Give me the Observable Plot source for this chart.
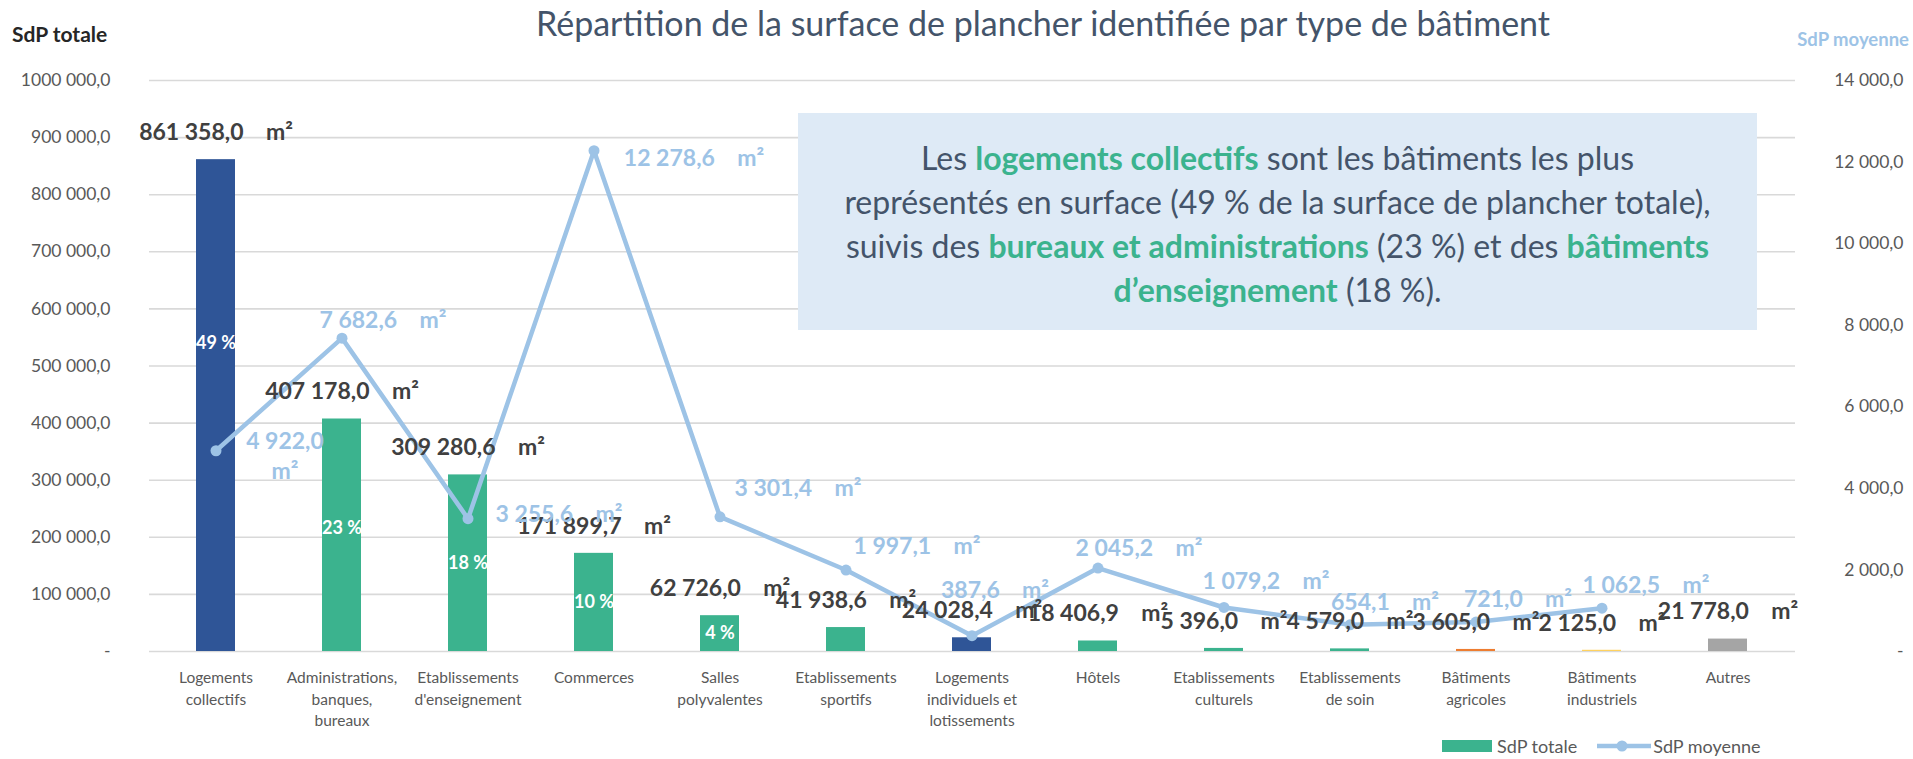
<!DOCTYPE html>
<html>
<head>
<meta charset="utf-8">
<script src="https://cdn.jsdelivr.net/npm/d3@7"></script>
<script src="https://cdn.jsdelivr.net/npm/@observablehq/plot@0.6"></script>
<style>
  html, body { margin: 0; padding: 0; background: #ffffff; }
  body { font-family: Lato, "Open Sans", "Liberation Sans", sans-serif; }
  #wrap { position: relative; width: 1913px; height: 759px; overflow: hidden; }
  #chart { position: absolute; left: 0; top: 0; }
  #title { position: absolute; left: 1043px; top: 3px; transform: translateX(-50%);
           font-size: 34px; line-height: 40px; color: #44546A; white-space: nowrap; }
  #ytitleL { position: absolute; left: 12px; top: 21px; font-size: 21px; font-weight: bold; color: #262626; line-height: 26px; white-space: nowrap; }
  #ytitleR { position: absolute; right: 4px; top: 27px; font-size: 18.5px; font-weight: bold; color: #9DC3E6; line-height: 24px; white-space: nowrap; }
  #note { position: absolute; left: 798px; top: 113px; width: 959px; height: 217px; background: #DEEAF6;
          box-sizing: border-box; padding-top: 23px; text-align: center; font-size: 32px; line-height: 44px;
          color: #44546A; white-space: nowrap; }
  #note b { color: #3BB38E; }
  #legend { position: absolute; left: 1442px; top: 735px; height: 22px; display: flex; align-items: center;
            font-size: 18px; line-height: 22px; color: #595959; white-space: nowrap; }
  #legend svg { display: block; }
</style>
</head>
<body>
<div id="wrap">
  <div id="chart"></div>
  <div id="title">Répartition de la surface de plancher identifiée par type de bâtiment</div>
  <div id="ytitleL">SdP totale</div>
  <div id="ytitleR">SdP moyenne</div>
  <div id="note">Les <b>logements collectifs</b> sont les bâtiments les plus<br>représentés en surface (49 % de la surface de plancher totale),<br>suivis des <b>bureaux et administrations</b> (23 %) et des <b>bâtiments</b><br><b>d’enseignement</b> (18 %).</div>
  <div id="legend">
    <svg width="50" height="12"><rect x="0" y="0" width="50" height="12" fill="#3BB38E"></rect></svg>
    <span style="margin-left:5px">SdP totale</span>
    <svg width="54" height="14" style="margin-left:20px"><line x1="0" y1="7" x2="54" y2="7" stroke="#9DC3E6" stroke-width="4.5"></line><circle cx="25" cy="7" r="5.5" fill="#9DC3E6"></circle></svg>
    <span style="margin-left:2px">SdP moyenne</span>
  </div>
</div>
<script>
// ---------- data ----------
const categories = [
  "Logements collectifs", "Administrations, banques, bureaux", "Etablissements d'enseignement",
  "Commerces", "Salles polyvalentes", "Etablissements sportifs",
  "Logements individuels et lotissements", "Hôtels", "Etablissements culturels",
  "Etablissements de soin", "Bâtiments agricoles", "Bâtiments industriels", "Autres"
];
const categoryLabels = [
  "Logements\ncollectifs", "Administrations,\nbanques,\nbureaux", "Etablissements\nd'enseignement",
  "Commerces", "Salles\npolyvalentes", "Etablissements\nsportifs",
  "Logements\nindividuels et\nlotissements", "Hôtels", "Etablissements\nculturels",
  "Etablissements\nde soin", "Bâtiments\nagricoles", "Bâtiments\nindustriels", "Autres"
];
const sdpTotale = [861358.0, 407178.0, 309280.6, 171899.7, 62726.0, 41938.6, 24028.4, 18406.9, 5396.0, 4579.0, 3605.0, 2125.0, 21778.0];
const sdpMoyenne = [4922.0, 7682.6, 3255.6, 12278.6, 3301.4, 1997.1, 387.6, 2045.2, 1079.2, 654.1, 721.0, 1062.5, null];
const percentLabels = ["49 %", "23 %", "18 %", "10 %", "4 %", "", "", "", "", "", "", "", ""];
const leftTicks = [0, 100000, 200000, 300000, 400000, 500000, 600000, 700000, 800000, 900000, 1000000];
const leftTickLabels = ["-", "100 000,0", "200 000,0", "300 000,0", "400 000,0", "500 000,0", "600 000,0", "700 000,0", "800 000,0", "900 000,0", "1000 000,0"];
const rightTicks = [0, 2000, 4000, 6000, 8000, 10000, 12000, 14000];
const rightTickLabels = ["-", "2 000,0", "4 000,0", "6 000,0", "8 000,0", "10 000,0", "12 000,0", "14 000,0"];

// ---------- styles / layout ----------
const barColor = {
  "Logements collectifs": "#2F5597",
  "Logements individuels et lotissements": "#2F5597",
  "Bâtiments agricoles": "#ED7D31",
  "Bâtiments industriels": "#FFD25F",
  "Autres": "#A5A5A5"
};
const green = "#3BB38E";
const lineColor = "#9DC3E6";
const pctNudge = [-62, -7, 0, 0, 0];
const meanNudge = [[69, 4], [41, -20], [91, -6], [100, 6], [78, -30], [71, -26], [23, -47], [41, -22], [42, -28], [35, -24], [42, -25], [44, -25]];

const K = 1000000 / 14000; // right axis (0..14 000) onto left scale (0..1 000 000)
const loc = d3.formatLocale({decimal: ",", thousands: "\u00a0", grouping: [3]});
const fmt = loc.format(",.1f");
const unit = "\u00a0\u00a0\u00a0\u00a0m²";

const rows = categories.map((c, i) => ({cat: c, label: categoryLabels[i], total: sdpTotale[i], mean: sdpMoyenne[i], pct: percentLabels[i]}));
const meanRows = rows.filter(d => d.mean != null);

const marks = [
  Plot.gridY(leftTicks, {stroke: "#D9D9D9", strokeOpacity: 1, strokeWidth: 1.6}),
  Plot.barY(rows, {x: "cat", y: "total", fill: d => barColor[d.cat] || green}),
  ...rows.filter(d => d.pct).map((d, i) => Plot.text([d], {
    x: "cat", y: r => r.total / 2, text: "pct", dy: pctNudge[i] || 0,
    fill: "white", fontWeight: "bold", fontSize: 18
  })),
  Plot.line(meanRows, {x: "cat", y: d => d.mean * K, stroke: lineColor, strokeWidth: 4.5}),
  Plot.dot(meanRows, {x: "cat", y: d => d.mean * K, r: 5.5, fill: lineColor}),
  Plot.text(rows, {x: "cat", y: "total", dy: -27, text: d => fmt(d.total) + unit,
    fill: "#404040", fontWeight: "bold", fontSize: 23}),
  ...meanRows.map((d, i) => Plot.text([d], {
    x: "cat", y: r => r.mean * K,
    text: r => i === 0 ? fmt(r.mean) + "\nm²" : fmt(r.mean) + unit,
    dx: meanNudge[i][0], dy: meanNudge[i][1], lineHeight: 1.3,
    fill: lineColor, fontWeight: "bold", fontSize: 23
  })),
  Plot.text(rows, {x: "cat", frameAnchor: "bottom", text: "label", lineAnchor: "top", dy: 16,
    lineHeight: 1.4, fontSize: 15.5, fill: "#595959"}),
  Plot.axisY(leftTicks, {anchor: "left", tickSize: 0, tickPadding: 39, label: null,
    tickFormat: v => leftTickLabels[leftTicks.indexOf(v)], fontSize: 17.5}),
  Plot.axisY(rightTicks.map(v => v * K), {anchor: "right", tickSize: 0, tickPadding: 108, textAnchor: "end", label: null,
    tickFormat: v => rightTickLabels[Math.round(v / K / 2000)], fontSize: 17.5})
];

const chart = Plot.plot({
  width: 1913,
  height: 759,
  marginLeft: 149,
  marginRight: 118,
  marginTop: 80,
  marginBottom: 108,
  style: {fontFamily: "Lato, 'Open Sans', sans-serif", color: "#595959", background: "transparent", overflow: "visible"},
  x: {type: "band", domain: categories, paddingInner: 0.69, paddingOuter: 0.345, axis: null},
  y: {domain: [0, 1000000]},
  marks
});
document.getElementById("chart").appendChild(chart);
</script>
</body>
</html>
